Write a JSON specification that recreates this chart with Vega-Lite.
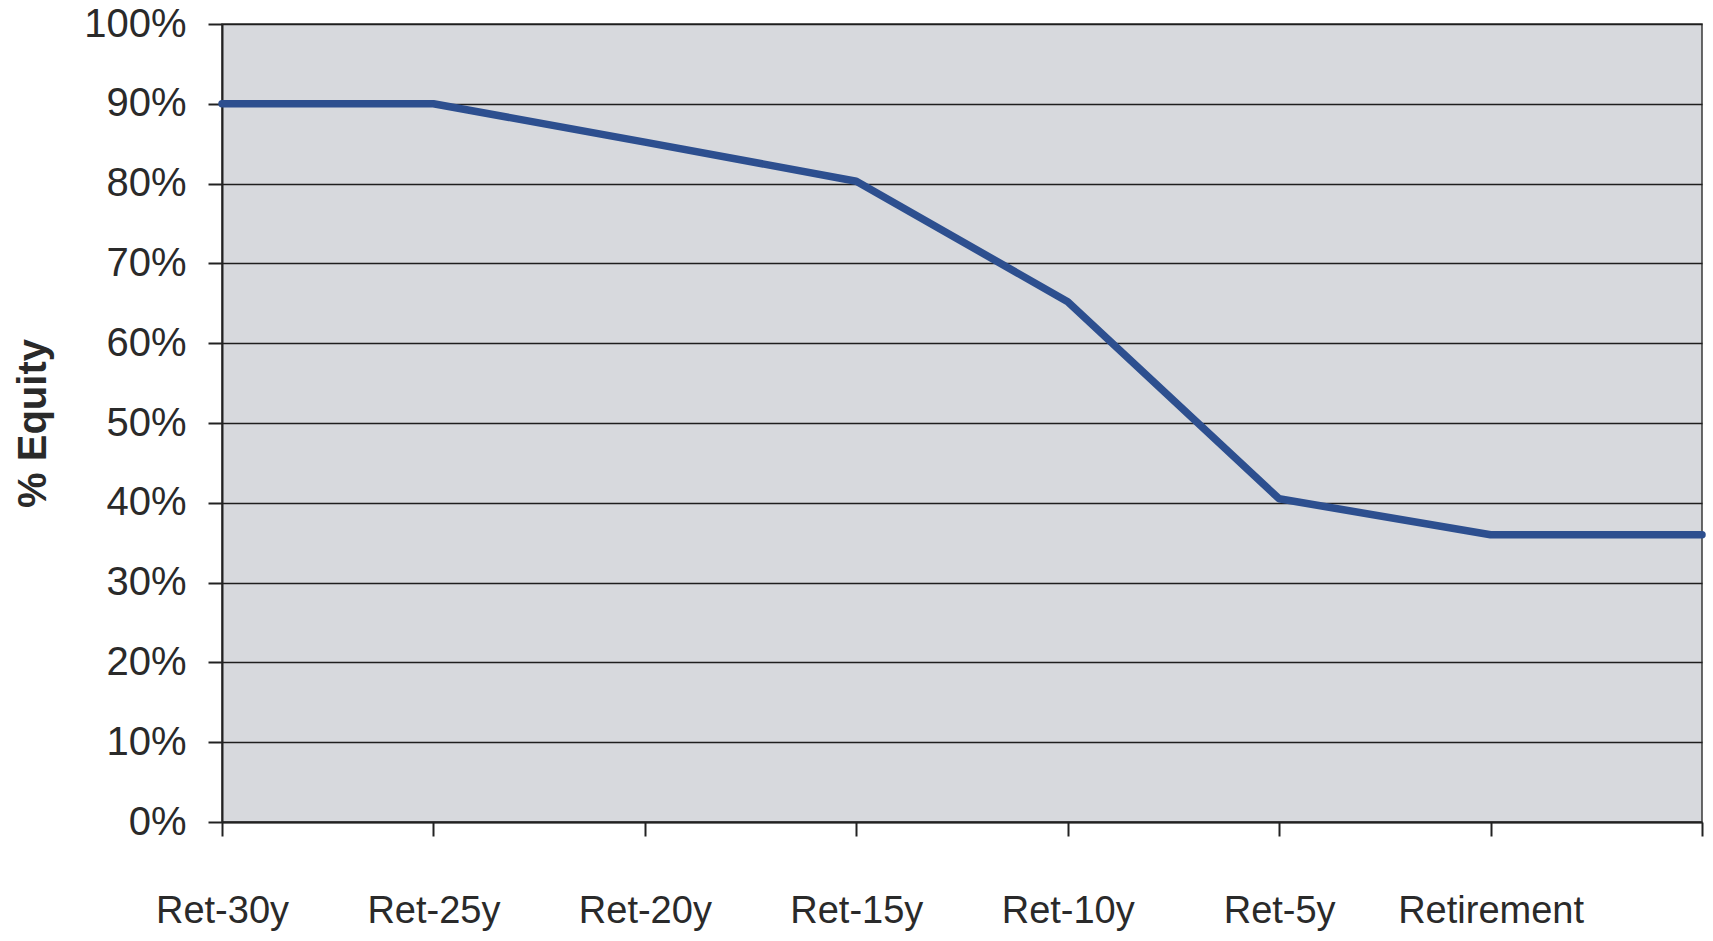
{
  "$schema": "https://vega.github.io/schema/vega-lite/v6.json",
  "autosize": "none",
  "width": 1480,
  "height": 798,
  "padding": {"left": 222, "top": 24, "right": 11, "bottom": 119},
  "background": "white",
  "data": {
    "values": [
      {"step": 0, "stage": "Ret-30y", "equity": 0.90},
      {"step": 1, "stage": "Ret-25y", "equity": 0.90},
      {"step": 2, "stage": "Ret-20y", "equity": 0.852},
      {"step": 3, "stage": "Ret-15y", "equity": 0.803},
      {"step": 4, "stage": "Ret-10y", "equity": 0.652},
      {"step": 5, "stage": "Ret-5y", "equity": 0.405},
      {"step": 6, "stage": "Retirement", "equity": 0.36},
      {"step": 7, "stage": "", "equity": 0.36}
    ]
  },
  "config": {
    "font": "Liberation Sans",
    "view": {"fill": "#d7d9dd", "stroke": "#3a3a3a", "strokeWidth": 1.5},
    "axis": {
      "labelColor": "#2a2a2a",
      "titleColor": "#2a2a2a",
      "domainColor": "#222222",
      "tickColor": "#222222",
      "domainWidth": 2,
      "tickWidth": 2,
      "gridColor": "#1e1e1e",
      "gridWidth": 1.5,
      "gridOpacity": 1
    }
  },
  "mark": {"type": "line", "color": "#2d4f8f", "strokeWidth": 7.5, "strokeCap": "round", "strokeJoin": "round"},
  "encoding": {
    "x": {
      "field": "step",
      "type": "quantitative",
      "scale": {"domain": [0, 7], "nice": false, "zero": false},
      "axis": {
        "title": null,
        "values": [0, 1, 2, 3, 4, 5, 6, 7],
        "labelExpr": "['Ret-30y','Ret-25y','Ret-20y','Ret-15y','Ret-10y','Ret-5y','Retirement',''][datum.value]",
        "grid": false,
        "tickSize": 14,
        "labelPadding": 56,
        "labelFontSize": 38,
        "labelLimit": 0,
        "labelFlush": false,
        "labelOverlap": false
      }
    },
    "y": {
      "field": "equity",
      "type": "quantitative",
      "scale": {"domain": [0, 1], "nice": false},
      "axis": {
        "title": "% Equity",
        "titleFontSize": 40,
        "titleFontWeight": "bold",
        "titleAngle": -90,
        "titleAlign": "center",
        "titleBaseline": "middle",
        "titleX": -189,
        "titleY": 399,
        "format": ".0%",
        "values": [0, 0.1, 0.2, 0.3, 0.4, 0.5, 0.6, 0.7, 0.8, 0.9, 1.0],
        "tickSize": 14,
        "labelPadding": 22,
        "labelFontSize": 40,
        "labelLimit": 0,
        "labelFlush": false,
        "labelOverlap": false,
        "grid": true
      }
    }
  }
}
